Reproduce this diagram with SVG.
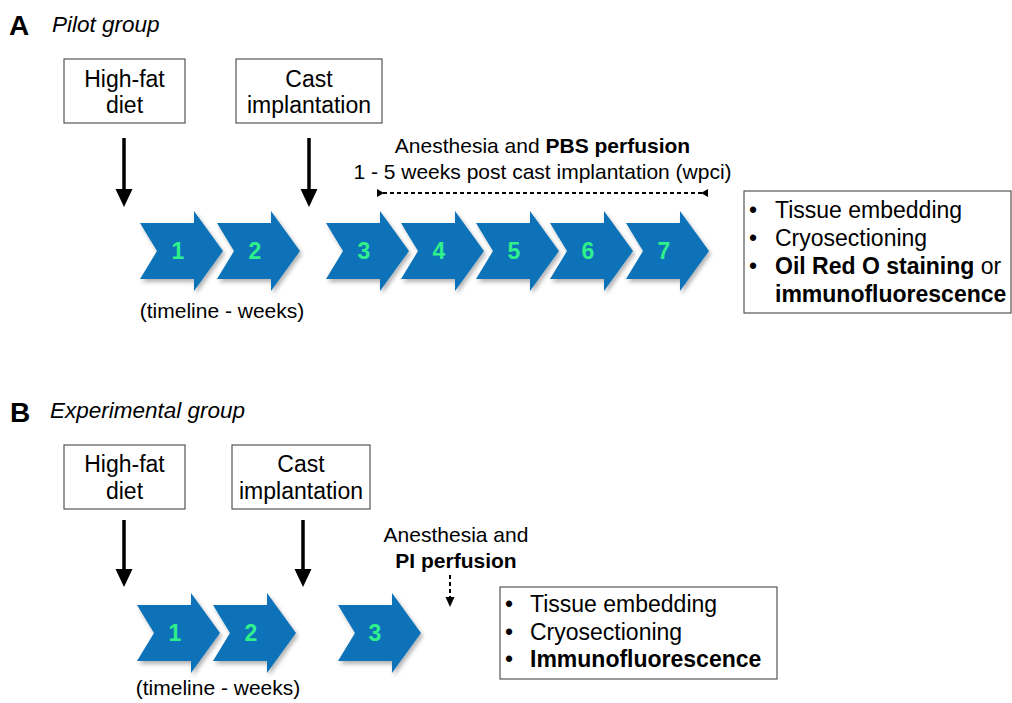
<svg xmlns="http://www.w3.org/2000/svg" width="1012" height="703" viewBox="0 0 1012 703">
<defs>
<style>
text{font-family:"Liberation Sans",Arial,Helvetica,sans-serif;fill:#000}
.ttl{font-size:22.5px;font-style:italic}
.big{font-size:28px;font-weight:bold}
.box{fill:#fff;stroke:#555;stroke-width:1.2}
.bt{font-size:23px;text-anchor:middle}
.lt{font-size:23px}
.mt{font-size:21px;text-anchor:middle}
.b{font-weight:bold}
.num{font-size:23px;font-weight:bold;fill:#2ff08a;text-anchor:middle}
.chev{fill:#0a72b8;filter:url(#sh)}
.sol{stroke:#000;stroke-width:3.5;fill:none}
.dash{stroke:#000;stroke-width:2;stroke-dasharray:4 3;fill:none}
</style>
<filter id="sh" x="-20%" y="-20%" width="150%" height="150%">
<feDropShadow dx="2" dy="3" stdDeviation="2" flood-color="#000" flood-opacity="0.3"/>
</filter>
<path id="chv" d="M0,-28 L54,-28 L54,-40 L83,0 L54,40 L54,28 L0,28 L17,0 Z"/>
</defs>
<rect width="1012" height="703" fill="#fff"/>

<g id="panelA-title">
<text x="9" y="35" class="big">A</text>
<text x="52" y="32" class="ttl">Pilot group</text>
</g>

<g id="A-highfat">
<rect class="box" x="64" y="59" width="121" height="64"/>
<text class="bt" x="124.5" y="87">High-fat</text>
<text class="bt" x="124.5" y="113">diet</text>
</g>
<g id="A-cast">
<rect class="box" x="236" y="59" width="146" height="64"/>
<text class="bt" x="309" y="87">Cast</text>
<text class="bt" x="309" y="113">implantation</text>
</g>

<g id="A-perfusion-label">
<text class="mt" x="542.5" y="153">Anesthesia and <tspan class="b">PBS perfusion</tspan></text>
<text class="mt" x="542.5" y="179">1 - 5 weeks post cast implantation (wpci)</text>
</g>

<g id="A-timeline">
<use href="#chv" class="chev" x="140" y="251"/>
<use href="#chv" class="chev" x="217" y="251"/>
<use href="#chv" class="chev" x="326" y="251"/>
<use href="#chv" class="chev" x="401" y="251"/>
<use href="#chv" class="chev" x="476" y="251"/>
<use href="#chv" class="chev" x="550" y="251"/>
<use href="#chv" class="chev" x="626" y="251"/>
<text class="num" x="178" y="259">1</text>
<text class="num" x="255" y="259">2</text>
<text class="num" x="364" y="259">3</text>
<text class="num" x="439" y="259">4</text>
<text class="num" x="514" y="259">5</text>
<text class="num" x="588" y="259">6</text>
<text class="num" x="664" y="259">7</text>
<text class="mt" x="222" y="318">(timeline - weeks)</text>
</g>

<g id="A-processing">
<rect class="box" x="744" y="191" width="267" height="122"/>
<text class="lt" x="749" y="218">•</text>
<text class="lt" x="775" y="218">Tissue embedding</text>
<text class="lt" x="749" y="246">•</text>
<text class="lt" x="775" y="246">Cryosectioning</text>
<text class="lt" x="749" y="274">•</text>
<text class="lt" x="775" y="274"><tspan class="b">Oil Red O staining</tspan> or</text>
<text class="lt b" x="775" y="302">immunofluorescence</text>
</g>

<g id="panelB-title">
<text x="10" y="422" class="big">B</text>
<text x="50" y="418" class="ttl">Experimental group</text>
</g>

<g id="B-highfat">
<rect class="box" x="64" y="445" width="121" height="64"/>
<text class="bt" x="124.5" y="472">High-fat</text>
<text class="bt" x="124.5" y="499">diet</text>
</g>
<g id="B-cast">
<rect class="box" x="232" y="445" width="138" height="64"/>
<text class="bt" x="301" y="472">Cast</text>
<text class="bt" x="301" y="499">implantation</text>
</g>

<g id="B-perfusion-label">
<text class="mt" x="456" y="542">Anesthesia and</text>
<text class="mt b" x="456" y="568">PI perfusion</text>
</g>

<g id="B-timeline">
<use href="#chv" class="chev" x="137" y="633"/>
<use href="#chv" class="chev" x="213" y="633"/>
<use href="#chv" class="chev" x="338" y="633"/>
<text class="num" x="175" y="641">1</text>
<text class="num" x="251" y="641">2</text>
<text class="num" x="375" y="641">3</text>
<text class="mt" x="218" y="695">(timeline - weeks)</text>
</g>

<g id="B-processing">
<rect class="box" x="500" y="587" width="277" height="92"/>
<text class="lt" x="505" y="612">•</text>
<text class="lt" x="530" y="612">Tissue embedding</text>
<text class="lt" x="505" y="640">•</text>
<text class="lt" x="530" y="640">Cryosectioning</text>
<text class="lt" x="505" y="667">•</text>
<text class="lt b" x="530" y="667">Immunofluorescence</text>
</g>

<g id="connectors">
<line class="sol" x1="124" y1="138" x2="124" y2="191"/>
<polygon points="115.5,189 132.5,189 124,207"/>
<line class="sol" x1="309" y1="138" x2="309" y2="191"/>
<polygon points="300.5,189 317.5,189 309,207"/>
<line class="dash" x1="383" y1="193" x2="703" y2="193"/>
<polygon points="377,189 377,197 384,193"/>
<polygon points="708,189 708,197 701,193"/>
<line class="sol" x1="124" y1="520" x2="124" y2="571"/>
<polygon points="115.5,569 132.5,569 124,587"/>
<line class="sol" x1="303" y1="520" x2="303" y2="571"/>
<polygon points="294.5,569 311.5,569 303,587"/>
<line class="dash" x1="450" y1="575" x2="450" y2="598"/>
<polygon points="445.5,597 454.5,597 450,607"/>
</g>
</svg>
